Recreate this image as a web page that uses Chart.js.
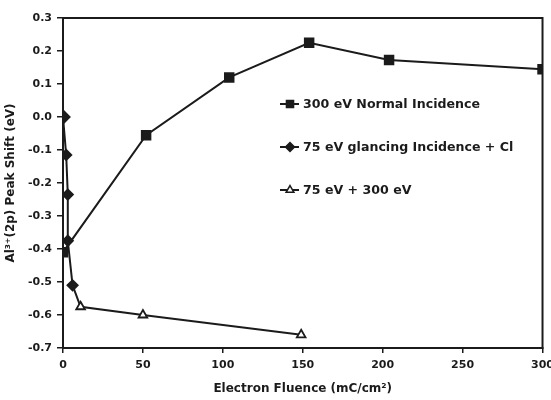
<!DOCTYPE html>
<html>
<head>
<meta charset="utf-8">
<script src="https://cdn.jsdelivr.net/npm/chart.js@4.4.0/dist/chart.umd.min.js"></script>
<style>
  html, body { margin: 0; padding: 0; background: #fff; overflow: hidden; }
  #chartWrap { width: 560px; height: 400px; }
</style>
</head>
<body>
<div id="chartWrap"><canvas id="chartBox"></canvas></div>
<script>
// values: fluence (mC/cm2) vs peak shift (eV)
const normalX = [0, 52, 104, 154, 204, 300];
const normalY = [-0.41, -0.055, 0.12, 0.225, 0.173, 0.145];
const glancingX = [0, 2, 3, 3, 6];
const glancingY = [0.0, -0.115, -0.235, -0.375, -0.51];
const comboX = [6, 11, 50, 149];
const comboY = [-0.51, -0.575, -0.60, -0.66];

const seriesNames = [
  "300 eV Normal Incidence",
  "75 eV glancing Incidence + Cl",
  "75 eV + 300 eV"
];
const xTicks = [0, 50, 100, 150, 200, 250, 300];
const yTicks = [0.3, 0.2, 0.1, 0.0, -0.1, -0.2, -0.3, -0.4, -0.5, -0.6, -0.7];

const ink = "#1b1b1b";
const font = "'DejaVu Sans', sans-serif";

const toPoints = (xs, ys) => xs.map((x, i) => ({ x: x, y: ys[i] }));

// legend sits inside the plot, drawn by hand
const legendBox = {
  id: 'legendBox',
  afterDatasetsDraw(chart) {
    const ctx = chart.ctx;
    ctx.save();
    chart.data.datasets.forEach((ds, i) => {
      const y = 104 + i * 43;
      ctx.strokeStyle = ink;
      ctx.lineWidth = 2;
      ctx.beginPath();
      ctx.moveTo(280, y);
      ctx.lineTo(299, y);
      ctx.stroke();
      ctx.fillStyle = ds.legendFill;
      ctx.lineWidth = 1.5;
      Chart.helpers.drawPoint(ctx, {
        pointStyle: ds.pointStyle, radius: ds.legendRadius, rotation: 0, borderWidth: 1.5
      }, 290, y);
      ctx.fillStyle = ink;
      ctx.font = "bold 12.6px " + font;
      ctx.textBaseline = "middle";
      ctx.textAlign = "left";
      ctx.fillText(seriesNames[i], 303, y + 1);
    });
    ctx.restore();
  }
};

// closes the box on top and right
const frame = {
  id: 'frame',
  beforeDatasetsDraw(chart) {
    const a = chart.chartArea;
    const ctx = chart.ctx;
    ctx.save();
    ctx.strokeStyle = ink;
    ctx.lineWidth = 2;
    ctx.strokeRect(a.left, a.top, a.right - a.left, a.bottom - a.top);
    ctx.restore();
  }
};

const chartBox = document.querySelector('#chartBox').getContext('2d');

let shiftChart = new Chart(chartBox, {
  type: 'line',
  data: {
    datasets: [
      {
        data: toPoints(normalX, normalY),
        borderColor: ink,
        borderWidth: 2,
        pointStyle: 'rect',
        pointRadius: 6,
        pointBackgroundColor: ink,
        pointBorderColor: ink,
        legendFill: ink,
        legendRadius: 5
      },
      {
        data: toPoints(glancingX, glancingY),
        borderColor: ink,
        borderWidth: 2,
        pointStyle: 'rectRot',
        pointRadius: [6.5, 5, 5, 5, 5],
        pointBackgroundColor: ink,
        pointBorderColor: ink,
        legendFill: ink,
        legendRadius: 4.5
      },
      {
        data: toPoints(comboX, comboY),
        borderColor: ink,
        borderWidth: 2,
        pointStyle: 'triangle',
        pointRadius: [0, 5, 5, 5],
        pointBorderWidth: 1.8,
        pointBackgroundColor: '#fff',
        pointBorderColor: ink,
        legendFill: '#fff',
        legendRadius: 4.5
      }
    ]
  },
  options: {
    responsive: true,
    maintainAspectRatio: false,
    animation: false,
    layout: { padding: { top: 18, right: 16, left: 0, bottom: 0 } },
    plugins: {
      legend: { display: false },
      tooltip: { enabled: false }
    },
    elements: { line: { tension: 0 } },
    scales: {
      x: {
        type: 'linear',
        min: 0,
        max: 300,
        afterBuildTicks: scale => { scale.ticks = xTicks.map(v => ({ value: v })); },
        afterFit: scale => { scale.height = 52; },
        ticks: {
          color: ink,
          font: { family: font, size: 11, weight: 'bold' },
          padding: 6,
          maxRotation: 0
        },
        grid: { drawOnChartArea: false, color: ink, tickLength: 5, lineWidth: 1.5 },
        border: { color: ink, width: 2 },
        title: {
          display: true,
          text: 'Electron Fluence (mC/cm\u00B2)',
          color: ink,
          font: { family: font, size: 12, weight: 'bold' },
          padding: { top: 0, bottom: 4 }
        }
      },
      y: {
        min: -0.7,
        max: 0.3,
        afterBuildTicks: scale => { scale.ticks = yTicks.map(v => ({ value: v })); },
        afterFit: scale => { scale.width = 63; },
        ticks: {
          color: ink,
          font: { family: font, size: 11, weight: 'bold' },
          padding: 5,
          callback: v => (Math.abs(v) < 1e-9 ? 0 : v).toFixed(1)
        },
        grid: { drawOnChartArea: false, color: ink, tickLength: 6, lineWidth: 1.5 },
        border: { color: ink, width: 2 },
        title: {
          display: true,
          text: 'Al\u00B3\u207A(2p) Peak Shift (eV)',
          color: ink,
          font: { family: font, size: 12, weight: 'bold' },
          padding: { top: 4, bottom: 0 }
        }
      }
    }
  },
  plugins: [frame, legendBox]
});
</script>
</body>
</html>
